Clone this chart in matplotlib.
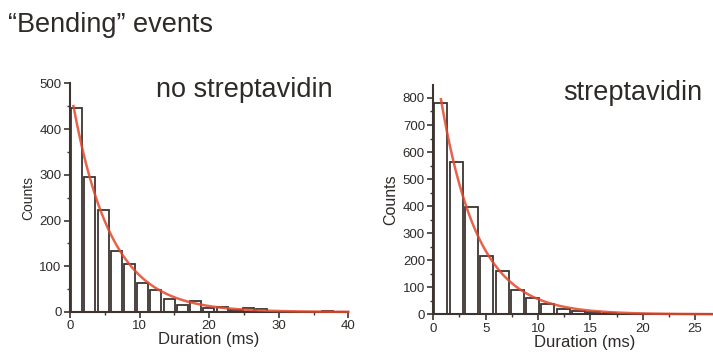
import numpy as np
import matplotlib.pyplot as plt

plt.rcParams['font.family'] = ['Liberation Sans', 'DejaVu Sans']

TEXT = '#2e2a28'
EDGE = '#3d3430'
RED = '#e4482c'

# dwell-time histograms (counts per bin)
bin_ns = 1.9
counts_ns = [447, 296, 222, 133, 105, 63, 48, 28, 16, 23, 9, 10, 5, 8, 7,
             0, 0, 0, 0, 2, 0]
bin_s = 1.46
counts_s = [780, 562, 396, 217, 161, 90, 59, 37, 21, 13, 7, 4, 2, 1, 1,
            0, 0, 0, 0, 0]

# single-exponential fits: amplitude, time constant (ms), first x
fit_ns = (493, 5.5, 0.5)
fit_s = (980, 3.5, 0.73)

fig = plt.figure(figsize=(7.13, 3.58), dpi=100)
W, H = 713, 358


def px_axes(x0, y0, x1, y1):
    return fig.add_axes([x0 / W, 1 - y1 / H, (x1 - x0) / W, (y1 - y0) / H])


def px_text(x, y, s, **kw):
    fig.text(x / W, 1 - y / H, s, **kw)


def style(ax, xmax, ymax, xmaj, ymaj, ylab_size):
    ax.set_xlim(0, xmax)
    ax.set_ylim(0, ymax)
    for s in ['top', 'right']:
        ax.spines[s].set_visible(False)
    for s in ['left', 'bottom']:
        ax.spines[s].set_color(EDGE)
        ax.spines[s].set_linewidth(1.5)
    ax.set_xticks(np.arange(0, xmax + 0.01, xmaj))
    ax.set_xticks(np.arange(xmaj / 2, xmax, xmaj), minor=True)
    ax.set_yticks(np.arange(0, ymax + 0.01, ymaj))
    ax.set_yticks(np.arange(ymaj / 2, ymax, ymaj), minor=True)
    ax.tick_params(which='major', length=4, width=1.2, color=EDGE,
                   labelsize=9.5, labelcolor=TEXT, pad=2)
    ax.tick_params(which='minor', length=2.5, width=1.0, color=EDGE)
    ax.set_xlabel('Duration (ms)', fontsize=12, color=TEXT, labelpad=0)
    ax.set_ylabel('Counts', fontsize=ylab_size, color=TEXT, labelpad=3)


def histo(ax, counts, bw, frac, fit, xend):
    idx = np.arange(len(counts))
    ax.bar((idx + 0.5) * bw, counts, width=bw * frac, color='white',
           edgecolor=EDGE, linewidth=1.3, zorder=2)
    a, tau, x0 = fit
    xs = np.linspace(x0, xend, 300)
    ax.plot(xs, a * np.exp(-xs / tau), color=RED, lw=1.8, alpha=0.85,
            zorder=3, clip_on=False)


ax1 = px_axes(70, 83.3, 348.3, 312)
style(ax1, 40, 500, 10, 100, 10)
histo(ax1, counts_ns, bin_ns, 0.83, fit_ns, 40)
px_text(156, 97, 'no streptavidin', fontsize=19.5, color=TEXT)

ax2 = px_axes(433.3, 85, 737, 314.3)
style(ax2, 29, 848, 5, 100, 11.5)
histo(ax2, counts_s, bin_s, 0.85, fit_s, 29)
px_text(563, 100, 'streptavidin', fontsize=19.5, color=TEXT)

px_text(7.5, 31.5, '\u201cBending\u201d events', fontsize=19.5, color=TEXT)

fig.savefig('out.png', dpi=100)
